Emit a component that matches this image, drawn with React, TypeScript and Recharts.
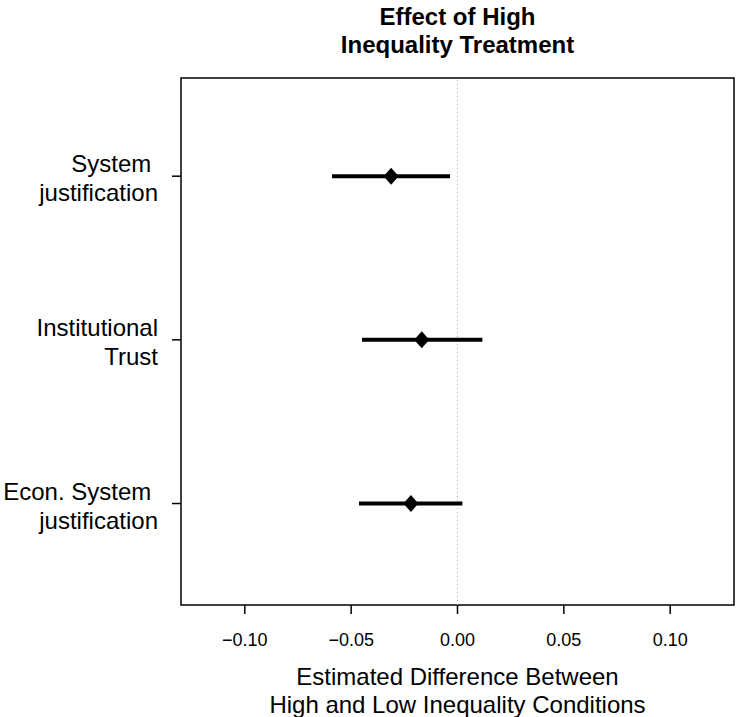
import React from 'react';
import {
  ScatterChart,
  Scatter,
  XAxis,
  YAxis,
  ErrorBar,
  ReferenceLine,
  ReferenceArea,
  Label,
} from 'recharts';

const outcomes = ['System justification', 'Institutional Trust', 'Econ. System justification'];
const outcomeLines = [
  ['System ', 'justification'],
  ['Institutional', 'Trust'],
  ['Econ. System ', 'justification'],
];
const rowPositions = [3, 2, 1];
const estimates = [-0.0312, -0.0168, -0.0219];
const lowerBounds = [-0.059, -0.0449, -0.0463];
const upperBounds = [-0.0035, 0.0117, 0.0023];
const xTicks = [-0.1, -0.05, 0, 0.05, 0.1];
const titleLines = ['Effect of High', 'Inequality Treatment'];
const xLabelLines = ['Estimated Difference Between', 'High and Low Inequality Conditions'];

const data = outcomes.map((name, i) => ({
  name,
  y: rowPositions[i],
  x: estimates[i],
  ci: [estimates[i] - lowerBounds[i], upperBounds[i] - estimates[i]],
}));

const FONT = '"Liberation Sans", Arial, Helvetica, sans-serif';

const fmt = (v: number) => (v < 0 ? '\u2212' : '') + Math.abs(v).toFixed(2);

function YTick(props: any) {
  const { x, y, payload } = props;
  const idx = rowPositions.indexOf(payload.value);
  const lines = idx >= 0 ? outcomeLines[idx] : [];
  return (
    <g>
      {lines.map((t, j) => (
        <text
          key={j}
          x={x - 12}
          y={y - 4 + j * 29}
          textAnchor="end"
          fontSize={24}
          fontFamily={FONT}
          fill="#000"
          style={{ whiteSpace: 'pre' }}
        >
          {t}
        </text>
      ))}
    </g>
  );
}

function Diamond(props: any) {
  const { cx, cy } = props;
  const w = 7.5;
  const h = 8.5;
  return (
    <polygon
      points={`${cx},${cy - h} ${cx + w},${cy} ${cx},${cy + h} ${cx - w},${cy}`}
      fill="#000"
    />
  );
}

function XAxisLabel(props: any) {
  const { viewBox } = props;
  const cx = viewBox.x + viewBox.width / 2;
  return (
    <g>
      {xLabelLines.map((t, j) => (
        <text
          key={j}
          x={cx}
          y={viewBox.y + 80 + j * 28}
          textAnchor="middle"
          fontSize={24}
          fontFamily={FONT}
          fill="#000"
        >
          {t}
        </text>
      ))}
    </g>
  );
}

export default function App() {
  return (
    <div style={{ position: 'absolute', left: 0, top: 0, width: 736, height: 717, background: '#fff' }}>
      <div
        style={{
          position: 'absolute',
          left: 181,
          width: 553,
          top: 3,
          textAlign: 'center',
          fontFamily: FONT,
          fontWeight: 'bold',
          fontSize: 24,
          lineHeight: '28px',
          color: '#000',
        }}
      >
        {titleLines.map((t) => (
          <div key={t}>{t}</div>
        ))}
      </div>
      <ScatterChart width={736} height={717} margin={{ top: 78, right: 2, bottom: 0, left: 0 }}>
        <XAxis
          type="number"
          dataKey="x"
          domain={[-0.13, 0.13]}
          ticks={xTicks}
          allowDataOverflow
          axisLine={false}
          tickSize={9}
          tickMargin={19}
          tickLine={{ stroke: '#000', strokeWidth: 1.5 }}
          tick={{ fontSize: 18, fontFamily: FONT, fill: '#000' }}
          tickFormatter={fmt}
          height={112}
        >
          <Label content={<XAxisLabel />} />
        </XAxis>
        <YAxis
          type="number"
          dataKey="y"
          domain={[0.38, 3.6]}
          ticks={rowPositions}
          allowDataOverflow
          axisLine={false}
          tickSize={9}
          tickLine={{ stroke: '#000', strokeWidth: 1.5 }}
          tick={<YTick />}
          width={181}
        />
        <ReferenceArea
          x1={-0.13}
          x2={0.13}
          y1={0.38}
          y2={3.6}
          fill="none"
          fillOpacity={0}
          stroke="#000"
          strokeWidth={1.5}
          ifOverflow="visible"
        />
        <ReferenceLine x={0} stroke="#b0b0b0" strokeDasharray="1 3" strokeWidth={1} />
        <Scatter data={data} shape={<Diamond />} isAnimationActive={false}>
          <ErrorBar
            dataKey="ci"
            direction="x"
            width={0}
            strokeWidth={4}
            stroke="#000"
            isAnimationActive={false}
          />
        </Scatter>
      </ScatterChart>
    </div>
  );
}
